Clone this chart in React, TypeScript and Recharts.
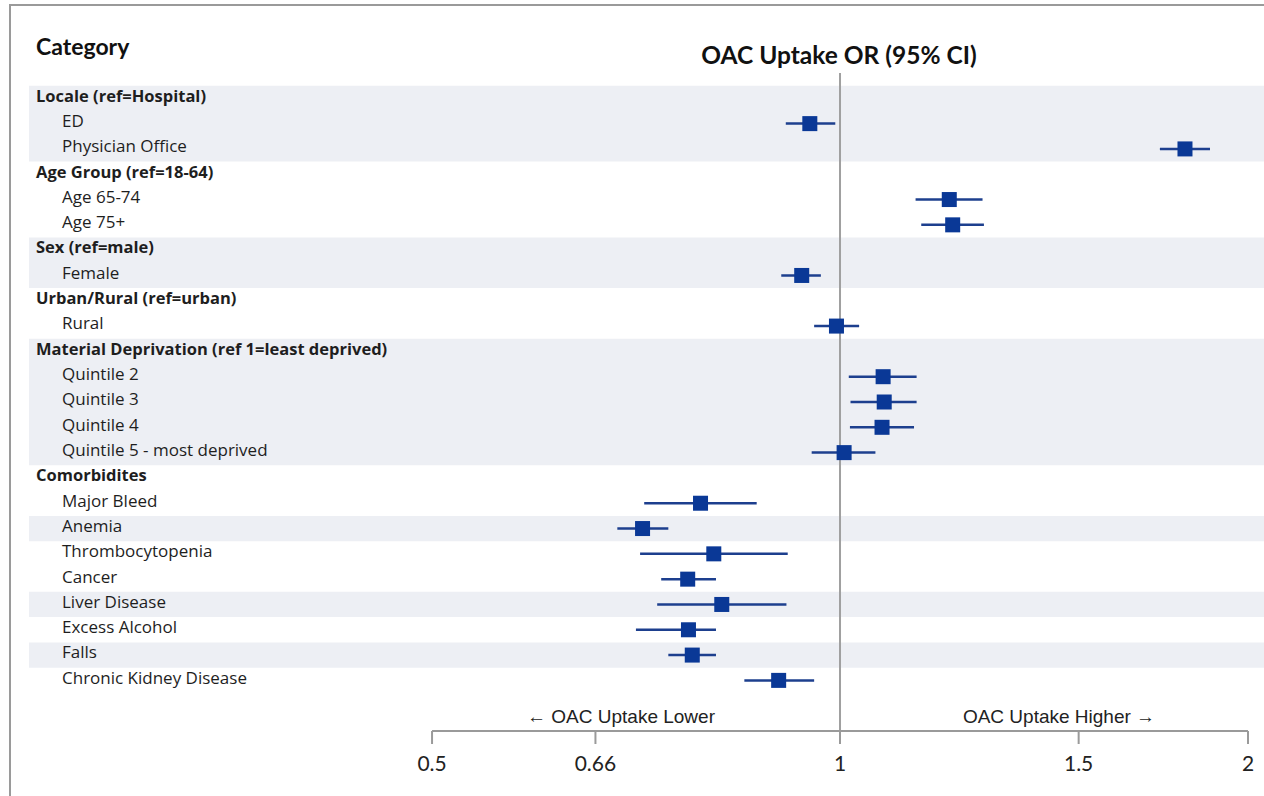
import {
  ScatterChart,
  Scatter,
  XAxis,
  YAxis,
  ErrorBar,
  ReferenceArea,
  ReferenceLine,
} from 'recharts';

const categories = [
  'Locale (ref=Hospital)',
  'ED',
  'Physician Office',
  'Age Group (ref=18-64)',
  'Age 65-74',
  'Age 75+',
  'Sex (ref=male)',
  'Female',
  'Urban/Rural (ref=urban)',
  'Rural',
  'Material Deprivation (ref 1=least deprived)',
  'Quintile 2',
  'Quintile 3',
  'Quintile 4',
  'Quintile 5 - most deprived',
  'Comorbidites',
  'Major Bleed',
  'Anemia',
  'Thrombocytopenia',
  'Cancer',
  'Liver Disease',
  'Excess Alcohol',
  'Falls',
  'Chronic Kidney Disease',
];

const headerRows = [0, 3, 6, 8, 10, 15];
const shadedRows = [0, 1, 2, 6, 7, 10, 11, 12, 13, 14, 17, 20, 22];

const oddsRatio = [
  null, 0.95, 1.797, null, 1.204, 1.211, null, 0.937, null, 0.994, null, 1.076,
  1.078, 1.074, 1.007, null, 0.789, 0.715, 0.807, 0.772, 0.818, 0.773, 0.778, 0.901,
];
const ciLower = [
  null, 0.912, 1.722, null, 1.137, 1.148, null, 0.905, null, 0.957, null, 1.015,
  1.018, 1.017, 0.953, null, 0.717, 0.685, 0.712, 0.738, 0.733, 0.707, 0.747, 0.85,
];
const ciUpper = [
  null, 0.992, 1.875, null, 1.274, 1.277, null, 0.968, null, 1.033, null, 1.139,
  1.139, 1.134, 1.062, null, 0.868, 0.747, 0.915, 0.81, 0.913, 0.81, 0.81, 0.957,
];

const xTicks = [0.5, 0.66, 1, 1.5, 2];

const data = categories
  .map((name, i) => ({
    row: i,
    name,
    or: oddsRatio[i],
    err:
      oddsRatio[i] == null
        ? null
        : [oddsRatio[i]! - ciLower[i]!, ciUpper[i]! - oddsRatio[i]!],
  }))
  .filter((d) => d.or != null);

// merge neighbouring shaded rows so the bands have no seams
const bands: [number, number][] = [];
shadedRows.forEach((r) => {
  const last = bands[bands.length - 1];
  if (last && last[1] === r - 1) last[1] = r;
  else bands.push([r, r]);
});

const labelFont = 'Lato, "Open Sans", sans-serif';
const rowFont = '"Open Sans", Lato, sans-serif';
const blue = '#0a3896';

const RowTick = (props: any) => {
  const { y, payload } = props;
  const i = payload.value;
  const head = headerRows.includes(i);
  return (
    <text
      x={head ? 36 : 62}
      y={y}
      dy="0.2em"
      fontFamily={rowFont}
      fontSize={head ? 16.5 : 17}
      fontWeight={head ? 700 : 400}
      fill="#1e1e1e"
      textAnchor="start"
    >
      {categories[i]}
    </text>
  );
};

const Square = (props: any) => {
  const { cx, cy } = props;
  return <rect x={cx - 7.5} y={cy - 7.5} width={15} height={15} fill={blue} />;
};

export default function App() {
  return (
    <div style={{ position: 'absolute', left: 0, top: 0, background: '#fff' }}>
      <ScatterChart
        width={1264}
        height={796}
        margin={{ top: 73, right: 0, bottom: 25, left: 28 }}
      >
        {bands.map(([a, b]) => (
          <ReferenceArea
            key={a}
            y1={a - 0.5}
            y2={b + 0.5}
            fill="#edeff4"
            fillOpacity={1}
            stroke="none"
            ifOverflow="visible"
          />
        ))}
        <XAxis
          type="number"
          dataKey="or"
          scale="log"
          domain={[0.2521, 2.0552]}
          allowDataOverflow
          ticks={xTicks}
          interval={0}
          height={40}
          axisLine={false}
          tickLine={{ stroke: '#9a9a9a', strokeWidth: 2 }}
          tickSize={13}
          tickMargin={12}
          tick={{ fontFamily: labelFont, fontSize: 21, fill: '#222' }}
        />
        <YAxis
          type="number"
          dataKey="row"
          domain={[-1, 25]}
          reversed
          allowDataOverflow
          ticks={categories.map((_, i) => i)}
          interval={0}
          width={1}
          axisLine={false}
          tickLine={false}
          tick={(p: any) => <RowTick {...p} />}
        />
        <ReferenceLine x={1} stroke="#a0a0a0" strokeWidth={2} />
        <ReferenceLine
          segment={[
            { x: 0.5, y: 25 },
            { x: 2, y: 25 },
          ]}
          stroke="#9a9a9a"
          strokeWidth={2}
          ifOverflow="visible"
        />
        <Scatter data={data} shape={<Square />} isAnimationActive={false}>
          <ErrorBar
            dataKey="err"
            direction="x"
            width={0}
            stroke="#1d3f8e"
            strokeWidth={2.5}
            isAnimationActive={false}
          />
        </Scatter>
        <line x1={10} y1={5} x2={10} y2={796} stroke="#9a9a9a" strokeWidth={2} />
        <line x1={9} y1={5} x2={1264} y2={5} stroke="#9a9a9a" strokeWidth={2} />
        <text
          x={36}
          y={47}
          dy="0.35em"
          fontFamily={labelFont}
          fontSize={23}
          fontWeight={700}
          fill="#111"
        >
          Category
        </text>
        <text
          x={839}
          y={55}
          dy="0.35em"
          textAnchor="middle"
          fontFamily={labelFont}
          fontSize={24.5}
          fontWeight={700}
          fill="#111"
        >
          OAC Uptake OR (95% CI)
        </text>
        <text
          x={621}
          y={716}
          dy="0.35em"
          textAnchor="middle"
          fontFamily='"Liberation Sans", Arial, sans-serif'
          fontSize={19}
          fill="#222"
        >
          ← OAC Uptake Lower
        </text>
        <text
          x={1059}
          y={716}
          dy="0.35em"
          textAnchor="middle"
          fontFamily='"Liberation Sans", Arial, sans-serif'
          fontSize={19}
          fill="#222"
        >
          OAC Uptake Higher →
        </text>
      </ScatterChart>
    </div>
  );
}
